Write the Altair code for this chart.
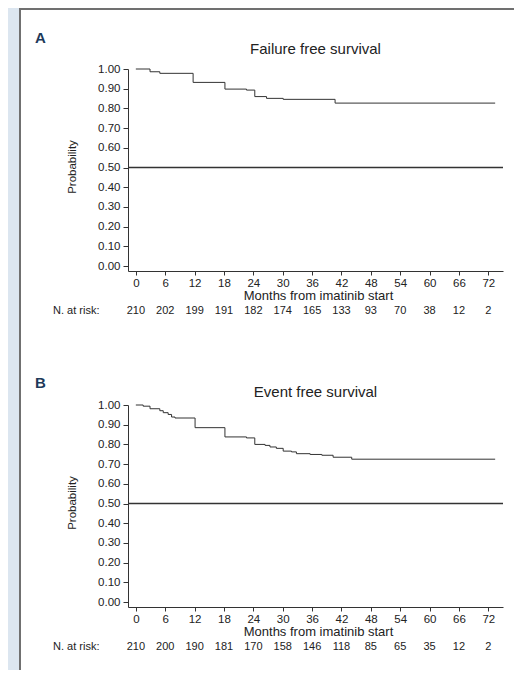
import altair as alt
import pandas as pd

# ---------------- data ----------------
tick_months = [0, 6, 12, 18, 24, 30, 36, 42, 48, 54, 60, 66, 72]
prob_ticks = [0.0, 0.1, 0.2, 0.3, 0.4, 0.5, 0.6, 0.7, 0.8, 0.9, 1.0]

risk_ffs = [210, 202, 199, 191, 182, 174, 165, 133, 93, 70, 38, 12, 2]
risk_efs = [210, 200, 190, 181, 170, 158, 146, 118, 85, 65, 35, 12, 2]

# Kaplan-Meier step points (month of step, survival after the step)
ffs_months = [0, 2.9, 4.9, 11.7, 18.2, 22.6, 24.3, 26.7, 30.1, 40.7, 73.4]
ffs_prob = [1.0, 0.986, 0.978, 0.932, 0.898, 0.893, 0.860, 0.851, 0.846, 0.827, 0.827]

efs_months = [0, 1.5, 2.9, 4.9, 5.6, 6.6, 7.3, 8.0, 12.1, 18.2, 22.6, 24.3, 26.4,
              27.4, 28.7, 30.1, 31.8, 32.8, 35.6, 38.0, 40.3, 44.1, 73.4]
efs_prob = [1.0, 0.994, 0.981, 0.971, 0.961, 0.952, 0.939, 0.934, 0.885, 0.838, 0.833,
            0.800, 0.795, 0.787, 0.780, 0.766, 0.762, 0.753, 0.749, 0.745, 0.735, 0.725, 0.725]

# ---------------- style ----------------
FONT = "Liberation Sans, Arial, sans-serif"
INK = "#333333"
BLUE = "#dce6f0"
EDGE = "#707070"
W, H = 375, 202
XDOM = [-1.6, 75]
YDOM = [-0.025, 1.0]


def make_axes():
    ax_x = alt.Axis(values=tick_months, format="d", title=None, tickSize=4,
                    labelPadding=2, labelFlush=False, labelOverlap=False,
                    grid=False, zindex=1)
    ax_y = alt.Axis(values=prob_ticks, format=".2f", title=None, tickSize=5,
                    labelPadding=3, labelOverlap=False, grid=False, zindex=1)
    return ax_x, ax_y


def panel(letter, title, months, prob, risk, top_ext, bottom_ext, letter_y, title_y, top_border):
    km = pd.DataFrame({"month": months, "prob": prob})
    one = pd.DataFrame({"k": [0]})
    xs = alt.Scale(domain=XDOM, nice=False, zero=False)
    ys = alt.Scale(domain=YDOM, nice=False, zero=False)
    ax_x, ax_y = make_axes()

    line = alt.Chart(km).mark_line(interpolate="step-after", color=INK, strokeWidth=1).encode(
        x=alt.X("month:Q", scale=xs, axis=ax_x),
        y=alt.Y("prob:Q", scale=ys, axis=ax_y),
    )
    half = alt.Chart(one).mark_rule(color=INK, strokeWidth=1.5).encode(
        y=alt.Y(datum=0.5, scale=ys, axis=ax_y), x=alt.value(0), x2=alt.value(W))

    strip = alt.Chart(one).mark_rect(fill=BLUE, strokeWidth=0).encode(
        x=alt.value(-120), x2=alt.value(-109),
        y=alt.value(-top_ext), y2=alt.value(H + bottom_ext))
    left = alt.Chart(one).mark_rect(fill=EDGE, strokeWidth=0).encode(
        x=alt.value(-109), x2=alt.value(-107),
        y=alt.value(-top_ext), y2=alt.value(H + bottom_ext))
    layers = [line, half, strip, left]
    if top_border:
        layers.append(alt.Chart(one).mark_rect(fill=EDGE, strokeWidth=0).encode(
            x=alt.value(-109), x2=alt.value(386),
            y=alt.value(-top_ext), y2=alt.value(-top_ext + 2)))

    letter_t = alt.Chart(one).mark_text(
        text=letter, font=FONT, fontSize=15, fontWeight="bold", color="#1e3a5a",
        align="left", baseline="middle").encode(x=alt.value(-93), y=alt.value(letter_y))
    title_t = alt.Chart(one).mark_text(
        text=title, font=FONT, fontSize=15, color="#222222",
        align="center", baseline="middle").encode(x=alt.value(W / 2), y=alt.value(title_y))
    ylab = alt.Chart(one).mark_text(
        text="Probability", font=FONT, fontSize=11.5, color="#222222", angle=270,
        align="center", baseline="middle").encode(x=alt.value(-55), y=alt.value(98))
    xlab = alt.Chart(one).mark_text(
        text="Months from imatinib start", font=FONT, fontSize=13, color="#222222",
        align="center", baseline="middle").encode(x=alt.value(W / 2 + 3), y=alt.value(227))
    nlab = alt.Chart(one).mark_text(
        text="N. at risk:", font=FONT, fontSize=11, color="#222222",
        align="left", baseline="middle").encode(x=alt.value(-75), y=alt.value(242))
    rdf = pd.DataFrame({"month": tick_months, "n": risk})
    ntext = alt.Chart(rdf).mark_text(
        font=FONT, fontSize=11, color="#222222", align="center", baseline="middle").encode(
        x=alt.X("month:Q", scale=xs, axis=ax_x), y=alt.value(242), text="n:Q")

    layers += [letter_t, title_t, ylab, xlab, nlab, ntext]
    return alt.layer(*layers).properties(width=W, height=H)


pa = panel("A", "Failure free survival", ffs_months, ffs_prob, risk_ffs,
           top_ext=61, bottom_ext=69, letter_y=-31, title_y=-20, top_border=True)
pb = panel("B", "Event free survival", efs_months, efs_prob, risk_efs,
           top_ext=65, bottom_ext=63, letter_y=-22, title_y=-13, top_border=False)

chart = alt.vconcat(pa, pb, spacing=0).properties(
    padding={"left": 0, "top": 0, "right": 0, "bottom": 0},
    background="white",
).configure_view(strokeWidth=0).configure_axis(
    domainColor=INK, tickColor=INK, labelColor="#222222", labelFont=FONT,
    labelFontSize=11.5, domainWidth=1, tickWidth=1,
)

chart.save("out.html", embed_options={"renderer": "svg", "actions": False})
